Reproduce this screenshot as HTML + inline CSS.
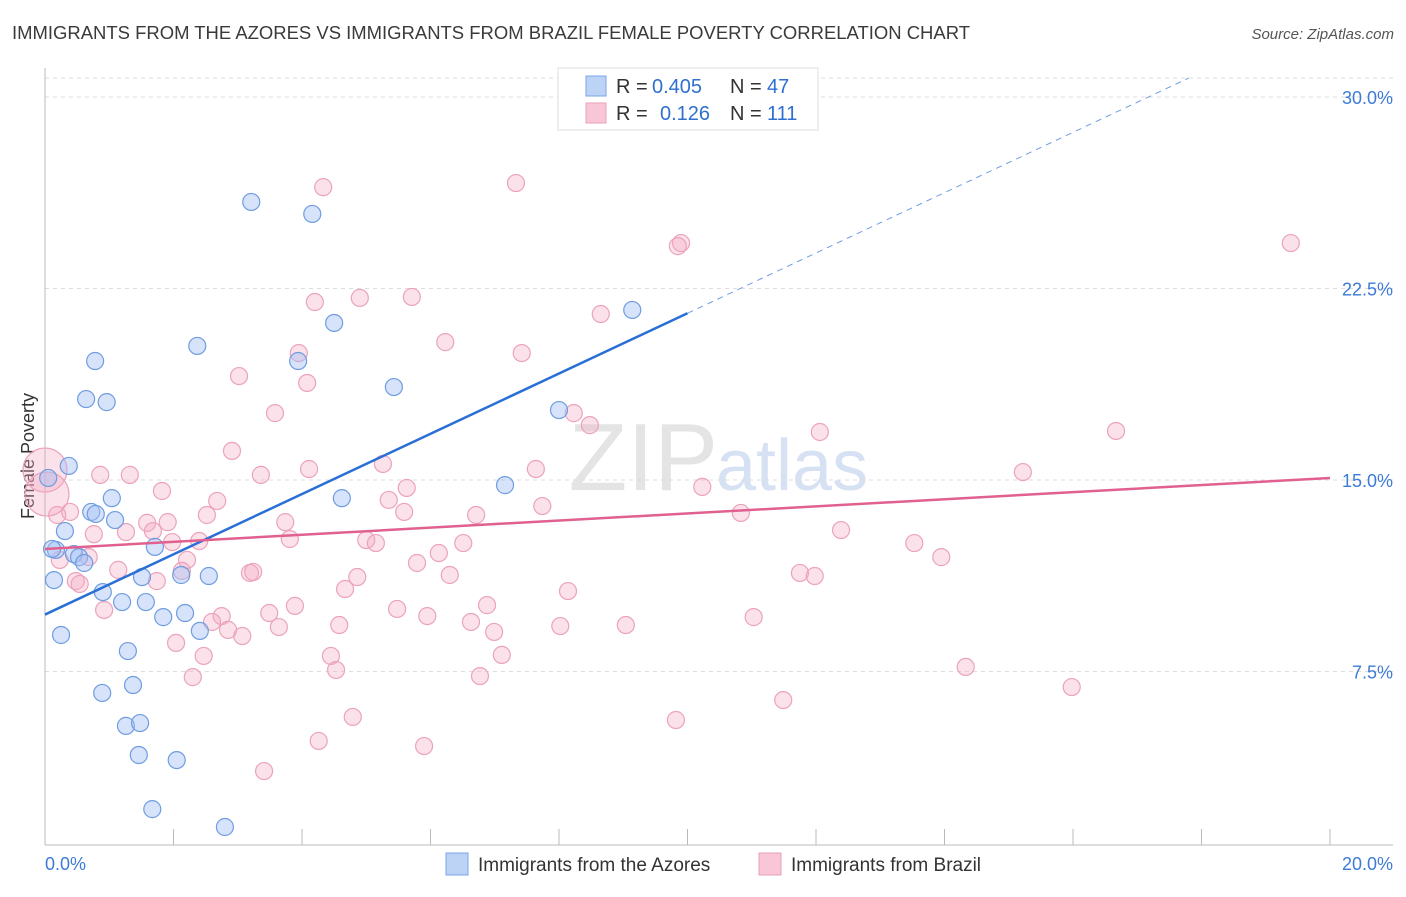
<!DOCTYPE html>
<html><head><meta charset="utf-8"><style>
body{margin:0;background:#fff;font-family:"Liberation Sans",sans-serif;}
svg text{font-family:"Liberation Sans",sans-serif;}
</style></head><body>
<svg id="chart" width="1406" height="892" viewBox="0 0 1406 892" xmlns="http://www.w3.org/2000/svg">
<text x="12" y="39" font-size="18" fill="#3a3a3a" textLength="958" lengthAdjust="spacingAndGlyphs">IMMIGRANTS FROM THE AZORES VS IMMIGRANTS FROM BRAZIL FEMALE POVERTY CORRELATION CHART</text>
<text x="1394" y="39" font-size="15" fill="#555" text-anchor="end" font-style="italic">Source: ZipAtlas.com</text>
<text transform="translate(34,456) rotate(-90)" font-size="18" fill="#333" text-anchor="middle">Female Poverty</text>
<text x="718" y="490" font-size="96" fill="#e4e4e4" text-anchor="end" font-family="Liberation Serif">ZIP</text>
<text x="716" y="490" font-size="72" fill="#d6e2f3">atlas</text>
<g id="grid"></g><g id="marks"></g><g id="lines"></g>
<g>
<rect x="558" y="68" width="260" height="62" fill="#fff" stroke="#ddd"/>
<rect x="586" y="76" width="20" height="20" fill="#bcd3f5" stroke="#7aa5e8"/>
<rect x="586" y="103" width="20" height="20" fill="#f8c6d6" stroke="#eaa0b8"/>
<text x="616" y="93" font-size="20" fill="#333">R =</text>
<text x="652" y="93" font-size="20" fill="#2f6fd0">0.405</text>
<text x="730" y="93" font-size="20" fill="#333">N =</text>
<text x="767" y="93" font-size="20" fill="#2f6fd0">47</text>
<text x="616" y="120" font-size="20" fill="#333">R =</text>
<text x="660" y="120" font-size="20" fill="#2f6fd0">0.126</text>
<text x="730" y="120" font-size="20" fill="#333">N =</text>
<text x="767" y="120" font-size="20" fill="#2f6fd0">111</text>
</g>
<g>
<rect x="446" y="853" width="22" height="22" fill="#bcd3f5" stroke="#7aa5e8"/>
<text x="478" y="871" font-size="19" fill="#333">Immigrants from the Azores</text>
<rect x="759" y="853" width="22" height="22" fill="#f8c6d6" stroke="#eaa0b8"/>
<text x="791" y="871" font-size="19" fill="#333">Immigrants from Brazil</text>
</g>
</svg>
<script>
const yTicks=[7.5,15,22.5,30];
const yTickLabels=["7.5%","15.0%","22.5%","30.0%"];
const xTicks=[0,2,4,6,8,10,12,14,16,18,20];
const azoresX=[3.21,4.16,9.14,4.50,2.37,3.94,0.78,5.43,0.64,0.96,8.00,0.37,7.16,4.62,1.04,0.72,0.79,1.09,0.31,0.17,1.71,0.45,0.53,0.61,0.05,0.14,1.51,2.12,2.55,0.90,1.20,1.57,1.84,2.18,2.41,0.25,1.29,1.37,0.89,1.26,1.48,1.46,2.05,1.67,2.80,0.11];
const azoresY=[25.89,25.42,21.66,21.15,20.25,19.66,19.66,18.64,18.17,18.05,17.74,15.55,14.80,14.29,14.29,13.75,13.67,13.43,13.00,12.26,12.38,12.10,11.98,11.75,15.08,11.08,11.20,11.28,11.24,10.61,10.22,10.22,9.63,9.79,9.09,8.93,8.30,6.97,6.66,5.37,5.48,4.23,4.03,2.11,1.41,12.30];
const brazilX=[4.33,7.33,19.39,9.90,9.85,4.20,4.90,5.71,8.65,6.23,7.42,3.95,3.02,4.08,3.58,8.23,8.48,12.06,16.67,2.91,5.26,7.64,15.22,4.11,0.86,1.32,3.36,10.23,5.63,1.82,5.35,2.68,7.74,5.59,10.83,2.52,6.71,3.74,1.59,1.91,0.76,1.26,12.39,1.68,5.00,2.40,5.15,6.51,1.98,3.81,13.53,6.13,13.95,0.68,5.79,2.21,0.23,1.14,6.30,3.19,3.24,2.13,11.75,11.98,4.86,0.48,0.54,1.74,4.67,8.14,3.89,6.88,5.48,0.92,3.49,5.95,11.03,2.75,2.60,4.58,6.63,3.64,8.02,9.04,2.85,3.07,6.99,2.04,2.47,4.45,7.11,4.53,14.33,2.30,6.77,15.98,11.49,4.79,9.82,4.26,5.90,3.41,0.39,0.19,0.00,0.03];
const brazilY=[26.47,26.63,24.28,24.28,24.16,21.97,22.13,22.17,21.50,20.40,19.97,19.97,19.07,18.80,17.62,17.62,17.15,16.88,16.92,16.14,15.63,15.43,15.31,15.43,15.20,15.20,15.20,14.73,14.69,14.57,14.22,14.18,13.98,13.75,13.71,13.63,13.63,13.35,13.32,13.35,12.88,12.96,13.04,13.00,12.65,12.61,12.53,12.53,12.57,12.69,12.53,12.14,11.98,11.98,11.75,11.87,11.87,11.48,11.28,11.36,11.40,11.44,11.36,11.24,11.20,11.04,10.93,11.04,10.73,10.65,10.07,10.10,9.95,9.91,9.79,9.67,9.63,9.67,9.44,9.32,9.44,9.24,9.28,9.32,9.13,8.89,9.05,8.62,8.11,8.11,8.15,7.56,7.68,7.28,7.32,6.89,6.38,5.72,5.60,4.78,4.58,3.60,13.75,13.63,15.39,14.45];
const brazilBig=[0,0,0,0,0,0,0,0,0,0,0,0,0,0,0,0,0,0,0,0,0,0,0,0,0,0,0,0,0,0,0,0,0,0,0,0,0,0,0,0,0,0,0,0,0,0,0,0,0,0,0,0,0,0,0,0,0,0,0,0,0,0,0,0,0,0,0,0,0,0,0,0,0,0,0,0,0,0,0,0,0,0,0,0,0,0,0,0,0,0,0,0,0,0,0,0,0,0,0,0,0,0,0,0,1,1];
const azoresTrendX=[0,10,17.8];
const azoresTrendY=[9.73,21.53,30.74];
const brazilTrendX=[0,20];
const brazilTrendY=[12.30,15.08];
const NS='http://www.w3.org/2000/svg';
const X=v=>45+v/20*1285;
const Y=v=>863-v/7.5*191.5;
function mk(tag,attrs,parent){const e=document.createElementNS(NS,tag);for(const k in attrs)e.setAttribute(k,attrs[k]);parent.appendChild(e);return e;}
const grid=document.getElementById('grid'),marks=document.getElementById('marks'),lines=document.getElementById('lines');
let t=mk('line',{x1:45,x2:1393,y1:78,y2:78,stroke:'#ddd','stroke-dasharray':'4 4'},grid);


yTicks.forEach((v,i)=>{
 const g=mk('line',{x1:45,x2:1393,y1:Y(v),y2:Y(v),stroke:'#ddd','stroke-dasharray':'4 4'},grid);
 
 
 const tx=mk('text',{x:1393,y:Y(v)+7,'font-size':18,fill:'#3d7bd6','text-anchor':'end'},grid);
 tx.textContent=yTickLabels[i];
 
 
});
const ax=mk('line',{x1:45,x2:1393,y1:845,y2:845,stroke:'#bbb'},grid);


const ay=mk('line',{x1:45,x2:45,y1:68,y2:845,stroke:'#bbb'},grid);


xTicks.forEach(v=>{
 const l=mk('line',{x1:X(v),x2:X(v),y1:829,y2:845,stroke:'#bbb'},grid);
 
 
});
const xl0=mk('text',{x:45,y:870,'font-size':18,fill:'#3d7bd6'},grid);xl0.textContent='0.0%';


const xl1=mk('text',{x:1393,y:870,'font-size':18,fill:'#3d7bd6','text-anchor':'end'},grid);xl1.textContent='20.0%';


brazilX.forEach((v,i)=>{
 const c=mk('circle',{cx:X(v),cy:Y(brazilY[i]),r:brazilBig[i]?22:8.5,fill:'rgba(244,170,195,0.35)',stroke:'#eba3bb','stroke-width':1.2},marks);
 
 
});
azoresX.forEach((v,i)=>{
 const c=mk('circle',{cx:X(v),cy:Y(azoresY[i]),r:8.5,fill:'rgba(164,194,244,0.45)',stroke:'#6f9de0','stroke-width':1.2},marks);
 
 
});
const a1=mk('line',{x1:X(azoresTrendX[0]),y1:Y(azoresTrendY[0]),x2:X(azoresTrendX[1]),y2:Y(azoresTrendY[1]),stroke:'#2a6fd6','stroke-width':2.5},lines);


const a2=mk('line',{x1:X(azoresTrendX[1]),y1:Y(azoresTrendY[1]),x2:X(azoresTrendX[2]),y2:Y(azoresTrendY[2]),stroke:'#6f9de0','stroke-width':1,'stroke-dasharray':'6 5'},lines);


const b1=mk('line',{x1:X(brazilTrendX[0]),y1:Y(brazilTrendY[0]),x2:X(brazilTrendX[1]),y2:Y(brazilTrendY[1]),stroke:'#e0608f','stroke-width':2.5},lines);


</script>
</body></html>
